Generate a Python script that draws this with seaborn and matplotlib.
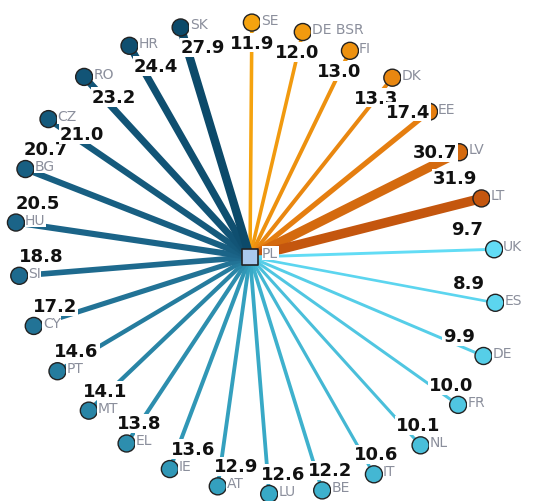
import numpy as np
import pandas as pd
import matplotlib
matplotlib.use("Agg")
import matplotlib.pyplot as plt
import seaborn as sns
from matplotlib.colors import LinearSegmentedColormap

# Partner countries around PL, clockwise from the top
countries = ['SE', 'DE BSR', 'FI', 'DK', 'EE', 'LV', 'LT',
             'UK', 'ES', 'DE', 'FR', 'NL', 'IT', 'BE', 'LU', 'AT', 'IE', 'EL',
             'MT', 'PT', 'CY', 'SI', 'HU', 'BG', 'CZ', 'RO', 'HR', 'SK']
values = [11.9, 12.0, 13.0, 13.3, 17.4, 30.7, 31.9,
          9.7, 8.9, 9.9, 10.0, 10.1, 10.6, 12.2, 12.6, 12.9, 13.6, 13.8,
          14.1, 14.6, 17.2, 18.8, 20.5, 20.7, 21.0, 23.2, 24.4, 27.9]
groups = ['BSR'] * 7 + ['other'] * 21
centre = 'PL'

# canvas in pixels
W, H = 533, 502
sns.set_style("white")

df = pd.DataFrame({'country': countries, 'value': values, 'group': groups})

# layout: nodes on a slightly tilted ellipse, small gap between SK and SE
n = len(df)
deg = -1.0 + np.arange(n) * 12.7
theta = np.deg2rad(deg)
tilt = np.deg2rad(130)
a_ax, b_ax = 250, 226
rad = 1 / np.sqrt(np.cos(theta - tilt) ** 2 / a_ax ** 2 +
                  np.sin(theta - tilt) ** 2 / b_ax ** 2)
df['x'] = 256 + rad * np.sin(theta)
df['y'] = 259 - rad * np.cos(theta)
df['deg'] = deg
px, py = 250, 258

# colours: gradient inside each group, by order
orange = LinearSegmentedColormap.from_list(
    'o', [(0, '#F5A30F'), (0.67, '#E57E10'), (1, '#C4560E')])
blue = LinearSegmentedColormap.from_list(
    'b', [(0, '#62DCF5'), (0.35, '#38A9C6'), (0.7, '#1E6A8E'), (1, '#0C4A6A')])
palette = {}
for g, cmap in [('BSR', orange), ('other', blue)]:
    names = df.loc[df['group'] == g, 'country'].tolist()
    for i, c in enumerate(names):
        palette[c] = matplotlib.colors.to_hex(cmap(i / (len(names) - 1)))

fig = plt.figure(figsize=(W / 100, H / 100), dpi=100)
ax = fig.add_axes([0, 0, 1, 1])
ax.set_xlim(0, W)
ax.set_ylim(H, 0)
ax.axis('off')

# edges
for _, r in df.iterrows():
    ax.plot([px, r['x']], [py, r['y']], color=palette[r['country']],
            lw=r['value'] * 0.216, solid_capstyle='butt', zorder=1)

# nodes
sns.scatterplot(data=df, x='x', y='y', hue='country', palette=palette,
                s=150, edgecolor='#222222', linewidth=1, legend=False,
                ax=ax, zorder=3)
ax.scatter([px], [py], marker='s', s=120, color='#A9C9EE',
           edgecolor='#222222', linewidth=1.2, zorder=4)
ax.set_xlabel('')
ax.set_ylabel('')

# country labels
for _, r in df.iterrows():
    ax.text(r['x'] + 9, r['y'] - 3, r['country'], color='#8b8f9c',
            fontsize=10, ha='left', va='center', zorder=5,
            bbox=dict(fc='white', ec='none', pad=0.3))
ax.text(px + 12, py - 4, centre, color='#8b8f9c', fontsize=10,
        ha='left', va='center', zorder=5,
        bbox=dict(fc='white', ec='none', pad=0.3))

# value labels: just inside the node, below it at the top, above it elsewhere
for _, r in df.iterrows():
    a = r['deg'] % 360
    s, c = np.sin(np.deg2rad(a)), np.cos(np.deg2rad(a))
    ox = -27 * s if s > 0 else -22 * s
    if 120 <= a <= 210 or 300 <= a <= 350:
        ox += 15
    if c > 0.7:
        oy = 20
    elif s < 0 and c > 0.5:
        oy = 15
    elif s > 0 and c > 0.4:
        oy = 0
    else:
        oy = -20
    ax.text(r['x'] + ox, r['y'] + oy, f"{r['value']:.1f}", color='#111111',
            fontsize=13, fontweight='bold', ha='center', va='center',
            zorder=6, bbox=dict(fc='white', ec='none', pad=0.5))

fig.savefig('out.png', dpi=100)
